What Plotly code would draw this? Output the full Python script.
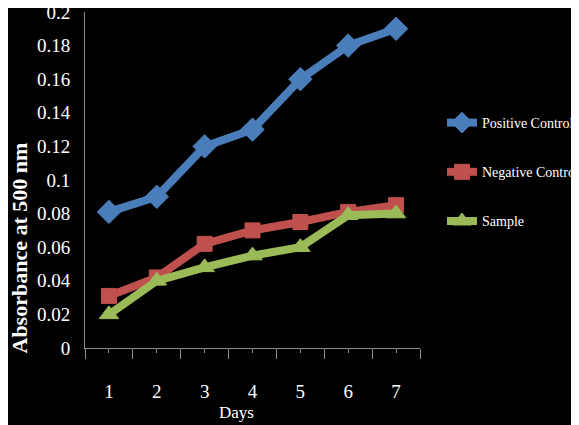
import plotly.graph_objects as go

days = [1, 2, 3, 4, 5, 6, 7]
day_labels = ["1", "2", "3", "4", "5", "6", "7"]
positive_control = [0.081, 0.090, 0.120, 0.130, 0.160, 0.180, 0.190]
negative_control = [0.031, 0.042, 0.062, 0.070, 0.075, 0.081, 0.085]
sample = [0.020, 0.040, 0.048, 0.055, 0.060, 0.079, 0.080]
y_ticks = [0, 0.02, 0.04, 0.06, 0.08, 0.1, 0.12, 0.14, 0.16, 0.18, 0.2]
y_tick_labels = ["0", "0.02", "0.04", "0.06", "0.08", "0.1", "0.12", "0.14", "0.16", "0.18", "0.2"]

W, H = 579, 425
L, R, T, B = 77, 412, 4, 340  # plot area pixel bounds (figure coords)

font = "Liberation Serif, Times New Roman, serif"

fig = go.Figure()
series = [
    ("Positive Control", positive_control, "#4a7ebb", "diamond", 18),
    ("Negative Control", negative_control, "#c0504d", "square", 15),
    ("Sample", sample, "#9bbb59", "triangle-up", 17),
]
for name, vals, col, sym, sz in series:
    fig.add_trace(go.Scatter(
        x=days, y=vals, name=name, mode="lines+markers", legendgroup=name,
        line=dict(color=col, width=8),
        marker=dict(symbol=sym, size=sz, color=col,
                    line=dict(color=col, width=1)),
    ))

def px_x(p):
    return (p - L) / (R - L)

def px_y(p):
    return (B - p) / (B - T)

fig.update_layout(
    width=W, height=H,
    margin=dict(l=L, r=W - R, t=T, b=H - B, autoexpand=False),
    paper_bgcolor="black", plot_bgcolor="black",
    font=dict(family=font, color="white", size=18),
    showlegend=True,
    legend=dict(
        xref="container", yref="container",
        x=434 / W, y=1 - 99 / H, xanchor="left", yanchor="top",
        font=dict(family=font, size=14, color="white"),
        bgcolor="rgba(0,0,0,0)", tracegroupgap=28, itemwidth=30,
    ),
    xaxis=dict(
        range=[0.5, 7.5], tickmode="array", tickvals=days, ticktext=day_labels,
        showgrid=False, zeroline=False, showline=True, linecolor="#8c8c8c",
        linewidth=1, ticks="outside", ticklen=4, tickcolor="#8c8c8c",
        minor=dict(tick0=0.5, dtick=1, ticks="outside", ticklen=10,
                   tickcolor="#8c8c8c", showgrid=False),
        tickfont=dict(family=font, size=19, color="white"),
        ticklabelstandoff=22, automargin=False,
    ),
    yaxis=dict(
        range=[0, 0.2], tickmode="array", tickvals=y_ticks, ticktext=y_tick_labels,
        showgrid=False, zeroline=False, showline=True, linecolor="#8c8c8c",
        linewidth=1, ticks="", tickfont=dict(family=font, size=19, color="white"),
        ticklabelstandoff=10, automargin=False, ticklabeloverflow="allow",
    ),
    annotations=[
        dict(text="<b>Absorbance at 500 nm</b>", textangle=-90,
             xref="paper", yref="paper", x=px_x(-3), y=px_y(240),
             xanchor="left", yanchor="middle", showarrow=False,
             font=dict(family=font, size=22, color="white")),
        dict(text="Days", xref="paper", yref="paper", x=px_x(228), y=px_y(393),
             xanchor="center", yanchor="top", showarrow=False,
             font=dict(family=font, size=17, color="white")),
    ],
)

fig.write_html("out.html")
